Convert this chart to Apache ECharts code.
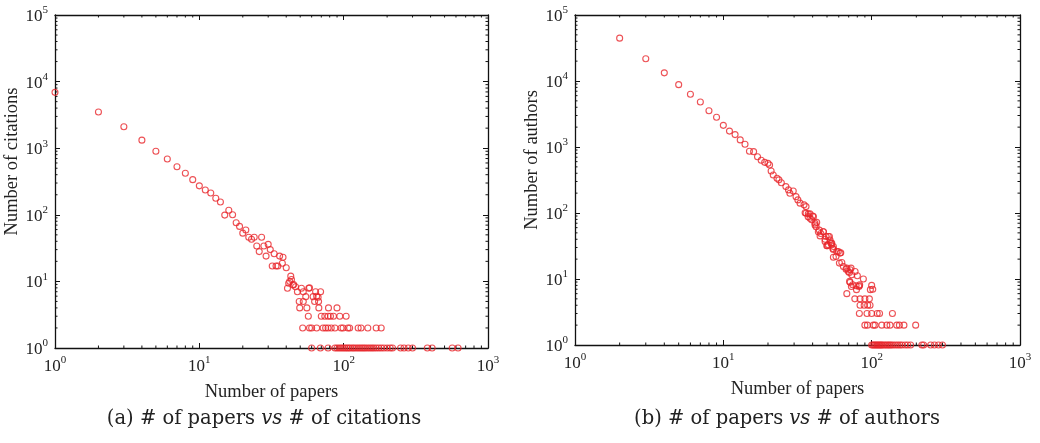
<!DOCTYPE html>
<html>
<head>
<meta charset="utf-8">
<script src="https://cdn.jsdelivr.net/npm/echarts@6/dist/echarts.min.js"></script>
<style>html,body{margin:0;padding:0;background:#fff}#c{width:1040px;height:443px}</style>
</head>
<body>
<div id="c"></div>
<script>
// ---------- data ----------
const citationPoints = [
  [1,6900],[2,3500],[3,2100],[4,1320],[5,900],[6,690],[7,527],[8,420],[9,337],[10,272],
  [11,236],[12,212],[13,177],[14,156],[15,99],[16,117],[17,100],[18,76],[19,67],[20,53],
  [21,59],[22,46],[23,43],[24,46],[25,34],[26,28],[27,46],[28,34],[29,24],[30,36],
  [31,30],[32,17],[33,26],[34,17],[35,17],[36,24],[37.6,18.7],[38,23],[40,16],
  [40.8,7.9],[41.6,9.4],[42.3,10],[43.5,10.7],[43,12],[44.6,8.8],[45,9],[46.4,8.3],[47.8,7],
  [51,7.9],[52.5,7],[54.6,5.9],[57.3,7.9],[58,8],[61.4,5.9],[63.9,7],[65,6],[66.5,5.8],[69.2,7],
  [49.2,5],[52.5,5],[62.9,5],[67,5],[49.6,4],[55.6,4],[67.3,4],[78.5,4],[89.9,4],
  [56.9,3],[70,3],[74,3],[78,3],[81,3],[85,3],[94,3],[104,3],
  [52,2],[58,2],[60,2],[65,2],[72,2],[75,2],[78,2],[82,2],[87,2],[96,2],[99,2],[107,2],
  [110,2],[126,2],[132,2],[147,2],[168,2],[182,2],
  [60,1],[69,1],[78,1],[87,1],[90,1],[93,1],[96,1],[99,1],[102,1],[105,1],[108,1],[111,1],
  [115,1],[118,1],[122,1],[126,1],[130,1],[134,1],[138,1],[142,1],[147,1],[152,1],[157,1],
  [162,1],[168,1],[175,1],[182,1],[190,1],[200,1],[210,1],[218,1],[248,1],[262,1],[280,1],
  [300,1],[380,1],[410,1],[565,1],[620,1]
];
const authorPoints = [
  [2,44600],[3,21700],[4,13300],[5,8800],[6,6300],[7,4800],[8,3550],[9,2820],[10,2130],
  [11,1740],[12,1540],[13,1280],[14,1100],[15,860],[16,850],[17,710],[18,630],[19,585],
  [20,565],[20.5,535],[21,433],[21.7,377],[23,336],[23.7,318],[24.6,288],[26.4,251],
  [27.5,224],[28.1,199],[29.6,216],[30.9,177],[31.8,158],[32.9,141],[35,133],[36.1,125],
  [36.1,99],[37.3,88],[38.4,97],[40.5,88],[39.4,79],[41.5,70],[42.2,62],[44.4,55],[45.4,49],
  [47.3,52],[49.3,44],[51,44],[52.4,39],[51,33],[53.8,35],[55.2,31],
  [35.6,101],[37.4,97],[40,90],[38.4,83],[42.6,72],[41.5,66],[43.7,52],[47.2,52],[44.9,45],
  [48.5,40],[51.9,44],[49.8,32],[53.8,33],[55.2,28],[59.6,26],[61.9,25],
  [48.5,37],[50.3,32],[53.2,35],[54.7,29],[58.2,26],[61.2,24.7],[55.2,21.4],[57.5,21.9],
  [60.6,17.4],[62.9,17.8],[64.5,15.5],[67.2,14.1],[70.7,12.5],[72.6,14.6],[73.4,11.6],
  [69.6,13],[68,14.6],[71.5,13.8],[77.3,13],[80.1,11.2],[87.9,10],
  [71.5,8.9],[74.5,8.2],[78.5,7.9],[82.6,7.9],[68,6],[101.7,7],[100,8],[71,9.2],[73,7.7],
  [82,7.7],[79,6.9],[83,8.2],[98,6.9],
  [77,5],[83.5,5],[90,5],[96.5,5],
  [83.5,4],[89,4],[94,4],[97.5,4],
  [82.6,3],[93,3],[100,3],[109,3],[113,3],[138,3],
  [90,2],[93.6,2],[102.6,2],[105.4,2],[117,2],[126.5,2],[133,2],[147.6,2],[153.8,2],[165,2],[198,2],
  [100,1],[102,1],[104,1],[106,1],[108,1],[110,1],[112,1],[114,1],[116,1],[118,1],[121,1],
  [124,1],[127,1],[130,1],[133,1],[136,1],[140,1],[145,1],[150,1],[155,1],[160,1],[168,1],
  [175,1],[183,1],[218,1],[224,1],[250,1],[265,1],[282,1],[300,1]
];
const xRange = [1, 1000];
const yRange = [1, 100000];
const xMinorTicks = [2,3,4,5,6,7,8,9,20,30,40,50,60,70,80,90,200,300,400,500,600,700,800,900];
const yMinorTicks = [2,3,4,5,6,7,8,9,20,30,40,50,60,70,80,90,200,300,400,500,600,700,800,900,
  2000,3000,4000,5000,6000,7000,8000,9000,20000,30000,40000,50000,60000,70000,80000,90000];
const xTitle = 'Number of papers';
const yTitles = ['Number of citations', 'Number of authors'];
const captions = ['(a) # of papers {i|vs} # of citations', '(b) # of papers {i|vs} # of authors'];

// ---------- chart ----------
const serif = 'Liberation Serif';
const RED = '#e8262b';
const grids = [
  {left: 55, top: 15, width: 433, height: 333},
  {left: 575, top: 15, width: 445, height: 330}
];
function powLabel(v) {
  const e = Math.round(Math.log10(v));
  return '{b|10}{s|' + e + '}';
}
const labelRich = {
  b: {fontFamily: serif, fontSize: 17, color: '#222', verticalAlign: 'bottom'},
  s: {fontFamily: serif, fontSize: 11, color: '#222', verticalAlign: 'bottom', padding: [0, 0, 9, 0]}
};
const axisLine = {show: true, onZero: false, lineStyle: {color: '#111', width: 1.3}};
const axisTick = {show: true, inside: true, length: 5, lineStyle: {color: '#111', width: 1}};

const xAxes = [], yAxes = [], series = [];
grids.forEach(function (g, i) {
  xAxes.push({
    type: 'log', logBase: 10, min: xRange[0], max: xRange[1], gridIndex: i, position: 'bottom',
    axisLine: axisLine, axisTick: axisTick, splitLine: {show: false},
    axisLabel: {formatter: powLabel, rich: labelRich, margin: 7},
    name: xTitle, nameLocation: 'middle', nameGap: 35,
    nameTextStyle: {fontFamily: serif, fontSize: 18.5, color: '#222'}
  });
  xAxes.push({
    type: 'log', logBase: 10, min: xRange[0], max: xRange[1], gridIndex: i, position: 'top',
    axisLine: axisLine, axisTick: axisTick, splitLine: {show: false}, axisLabel: {show: false}
  });
  yAxes.push({
    type: 'log', logBase: 10, min: yRange[0], max: yRange[1], gridIndex: i, position: 'left',
    axisLine: axisLine, axisTick: axisTick, splitLine: {show: false},
    axisLabel: {formatter: powLabel, rich: labelRich, margin: 7},
    name: yTitles[i], nameLocation: 'middle', nameGap: 31, nameRotate: 90,
    nameTextStyle: {fontFamily: serif, fontSize: 18.5, color: '#222', padding: [0, 0, 0, 40]}
  });
  yAxes.push({
    type: 'log', logBase: 10, min: yRange[0], max: yRange[1], gridIndex: i, position: 'right',
    axisLine: axisLine, axisTick: axisTick, splitLine: {show: false}, axisLabel: {show: false}
  });
  const xi = i * 2, yi = i * 2;
  series.push({
    type: 'scatter', xAxisIndex: xi, yAxisIndex: yi,
    data: i === 0 ? citationPoints : authorPoints,
    symbol: 'circle', symbolSize: 6,
    itemStyle: {color: 'rgba(0,0,0,0)', borderColor: RED, borderWidth: 1.1},
    emphasis: {disabled: true}, silent: true
  });
  // minor ticks along x (bottom & top), positioned through the axes' scales
  series.push({
    type: 'custom', xAxisIndex: xi, yAxisIndex: yi, silent: true,
    data: xMinorTicks.map(function (v) { return [v, yRange[0]]; }),
    renderItem: function (params, api) {
      const v = api.value(0);
      const p0 = api.coord([v, yRange[0]]);
      const p1 = api.coord([v, yRange[1]]);
      const st = {stroke: '#111', lineWidth: 1};
      return {type: 'group', children: [
        {type: 'line', shape: {x1: p0[0], y1: p0[1], x2: p0[0], y2: p0[1] - 2.5}, style: st},
        {type: 'line', shape: {x1: p1[0], y1: p1[1], x2: p1[0], y2: p1[1] + 2.5}, style: st}
      ]};
    }
  });
  series.push({
    type: 'custom', xAxisIndex: xi, yAxisIndex: yi, silent: true,
    data: yMinorTicks.map(function (v) { return [xRange[0], v]; }),
    renderItem: function (params, api) {
      const v = api.value(1);
      const p0 = api.coord([xRange[0], v]);
      const p1 = api.coord([xRange[1], v]);
      const st = {stroke: '#111', lineWidth: 1};
      return {type: 'group', children: [
        {type: 'line', shape: {x1: p0[0], y1: p0[1], x2: p0[0] + 2.5, y2: p0[1]}, style: st},
        {type: 'line', shape: {x1: p1[0], y1: p1[1], x2: p1[0] - 2.5, y2: p1[1]}, style: st}
      ]};
    }
  });
});

const capFont = 'DejaVu Serif';
const chart = echarts.init(document.getElementById('c'), null, {renderer: 'canvas'});
chart.setOption({
  animation: false,
  backgroundColor: '#fff',
  grid: grids,
  xAxis: xAxes,
  yAxis: yAxes,
  series: series,
  title: [0, 1].map(function (i) {
    return {
      text: captions[i], left: i === 0 ? 259 : 782, top: 404, textAlign: 'center',
      textStyle: {fontFamily: capFont, fontSize: 19.5, fontWeight: 'normal', color: '#222',
        rich: {i: {fontFamily: capFont, fontStyle: 'italic', fontSize: 19.5, color: '#222'}}}
    };
  })
});
</script>
</body>
</html>
